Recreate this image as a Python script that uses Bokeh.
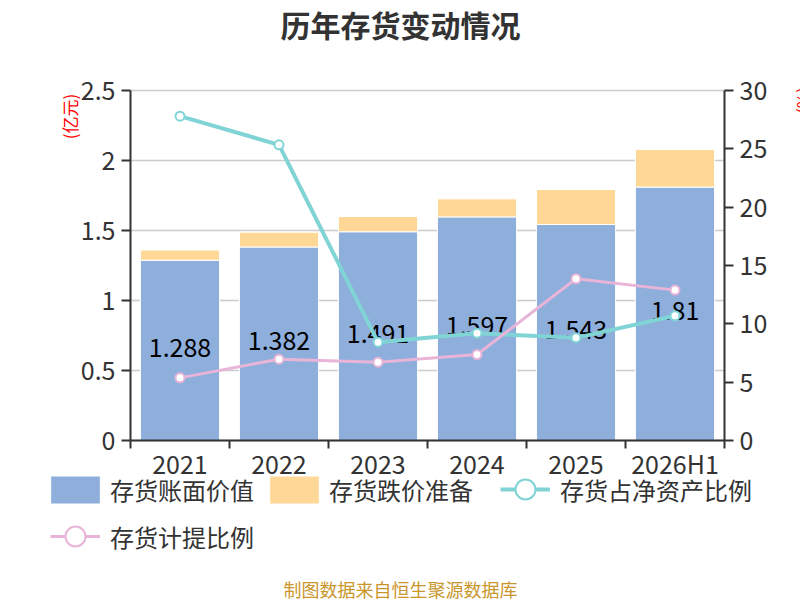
import numpy as np
from bokeh.plotting import figure
from bokeh.models import (Range1d, LinearAxis, FixedTicker, ColumnDataSource, Label,
                          Legend, LegendItem, NumeralTickFormatter)
from bokeh.core.properties import value
from bokeh.embed import file_html
from bokeh.resources import INLINE

# ---------------- data ----------------
categories = ["2021", "2022", "2023", "2024", "2025", "2026H1"]
book_value = [1.288, 1.382, 1.491, 1.597, 1.543, 1.81]        # 存货账面价值 (亿元)
impairment = [0.073, 0.106, 0.109, 0.129, 0.25, 0.269]        # 存货跌价准备 (亿元)
ratio_net_assets = [27.8, 25.34, 8.43, 9.2, 8.8, 10.69]       # 存货占净资产比例 (%)
provision_ratio = [5.37, 6.97, 6.71, 7.37, 13.86, 12.89]      # 存货计提比例 (%)
left_ticks = [0, 0.5, 1, 1.5, 2, 2.5]
right_ticks = [0, 5, 10, 15, 20, 25, 30]
series_names = ["存货账面价值", "存货跌价准备", "存货占净资产比例", "存货计提比例"]
title_text = "历年存货变动情况"
left_unit = "(亿元)"
right_unit = "(%)"
footer_text = "制图数据来自恒生聚源数据库"

# ---------------- layout / style ----------------
W, H = 800, 600
PL, PR, PT, PB = 130, 724, 90, 440     # plot area in pixels
FONT = "Noto Sans CJK SC"
BLUE = "#8eaedb"
ORANGE = "#ffd898"
CYAN = "#80d4d6"
PINK = "#e8b5d8"
AXIS = "#333333"

n = len(categories)
x = np.arange(n)
x_lo, x_hi = x[0] - 0.5, x[-1] + 0.5
xpx = (PR - PL) / (x_hi - x_lo)
ypx = (PB - PT) / (left_ticks[-1] - left_ticks[0])
rpx = (PB - PT) / (right_ticks[-1] - right_ticks[0])

src = ColumnDataSource(dict(
    x=x,
    book=book_value,
    imp=impairment,
    r1=ratio_net_assets,
    r2=provision_ratio,
    ly=np.array(book_value) / 2,
    lt=[f"{v:g}" for v in book_value],
))

p = figure(width=W, height=H,
           x_range=Range1d(x_lo - PL / xpx, x_hi + (W - PR) / xpx),
           y_range=Range1d(left_ticks[0] - (H - PB) / ypx, left_ticks[-1] + PT / ypx),
           output_backend="svg", toolbar_location=None,
           min_border_left=0, min_border_right=0, min_border_top=0, min_border_bottom=0)
p.extra_y_ranges = {"pct": Range1d(right_ticks[0] - (H - PB) / rpx,
                                   right_ticks[-1] + PT / rpx)}
p.outline_line_color = None
p.background_fill_color = "white"
p.border_fill_color = "white"
p.xgrid.visible = False
p.ygrid.visible = False

# horizontal grid lines limited to the plot area
p.segment(x0=x_lo, x1=x_hi, y0=left_ticks, y1=left_ticks,
          line_color="#cccccc", line_width=1.5)

def style_axis(ax):
    ax.axis_line_color = AXIS
    ax.axis_line_width = 2
    ax.major_tick_line_color = AXIS
    ax.major_tick_line_width = 2
    ax.major_tick_out = 9
    ax.major_tick_in = 0
    ax.minor_tick_line_color = None
    ax.major_label_text_font = FONT
    ax.major_label_text_font_size = "25px"
    ax.major_label_text_color = AXIS
    ax.major_label_standoff = 6

# left axis
lax = p.yaxis[0]
style_axis(lax)
lax.fixed_location = x_lo
lax.bounds = (left_ticks[0], left_ticks[-1])
lax.ticker = FixedTicker(ticks=left_ticks)
lax.formatter = NumeralTickFormatter(format="0.[0]")

# right axis
rax = LinearAxis(y_range_name="pct", ticker=FixedTicker(ticks=right_ticks),
                 fixed_location=x_hi, bounds=(right_ticks[0], right_ticks[-1]))
style_axis(rax)
rax.formatter = NumeralTickFormatter(format="0")
p.add_layout(rax, "right")

# x axis: labels at centers, ticks at category boundaries
xax = p.xaxis[0]
style_axis(xax)
xax.fixed_location = left_ticks[0]
xax.bounds = (x_lo, x_hi)
bounds = list(np.concatenate([x - 0.5, [x[-1] + 0.5]]))
xax.ticker = FixedTicker(ticks=[int(i) for i in x], minor_ticks=bounds)
xax.major_label_overrides = {int(i): c for i, c in zip(x, categories)}
xax.major_tick_line_color = None
xax.major_tick_out = 0
xax.minor_tick_line_color = AXIS
xax.minor_tick_line_width = 2
xax.minor_tick_out = 8
xax.minor_tick_in = 0
xax.major_label_standoff = -4

# stacked bars
bars = p.vbar_stack(["book", "imp"], x="x", width=0.8, color=[BLUE, ORANGE],
                    line_color="white", line_width=1, source=src)

# value labels inside blue bars
p.text(x="x", y="ly", text="lt", source=src, text_align="center",
       text_baseline="middle", text_font=value(FONT), text_font_size="25px",
       text_color="#000000", y_offset=-3)

# lines
l1 = p.line("x", "r1", source=src, y_range_name="pct", line_color=CYAN, line_width=4)
s1 = p.scatter("x", "r1", source=src, y_range_name="pct", size=9, marker="circle",
               fill_color="white", line_color=CYAN, line_width=2)
l2 = p.line("x", "r2", source=src, y_range_name="pct", line_color=PINK, line_width=3)
s2 = p.scatter("x", "r2", source=src, y_range_name="pct", size=9, marker="circle",
               fill_color="white", line_color=PINK, line_width=2)

def make_legend(items, loc, glyph_w, glyph_h, standoff, spacing):
    lg = Legend(items=items, location=loc, orientation="horizontal")
    lg.label_text_font = FONT
    lg.label_text_font_size = "24px"
    lg.label_text_color = AXIS
    lg.glyph_width = glyph_w
    lg.glyph_height = glyph_h
    lg.label_height = 28
    lg.label_standoff = standoff
    lg.spacing = spacing
    lg.padding = 0
    lg.margin = 0
    lg.border_line_color = None
    lg.background_fill_alpha = 0
    p.add_layout(lg, "center")

# legends (location = bottom-left corner, screen px from the canvas bottom-left)
make_legend([LegendItem(label=series_names[0], renderers=[bars[0]]),
             LegendItem(label=series_names[1], renderers=[bars[1]])],
            (44, 93), 62, 35, 4, 9)
make_legend([LegendItem(label=series_names[2], renderers=[l1, s1])], (500, 86), 50, 50, 10, 14)
make_legend([LegendItem(label=series_names[3], renderers=[l2, s2])], (50, 39), 50, 50, 10, 14)

# title, axis names, footer
def add_label(txt, sx, sy, size, color, angle=0.0, style="normal"):
    p.add_layout(Label(x=sx, y=H - sy, x_units="screen", y_units="screen", text=txt,
                       angle=angle, text_align="center", text_baseline="middle",
                       text_font=FONT, text_font_size=size, text_font_style=style,
                       text_color=color))

add_label(title_text, 400, 23, "30px", "#333333", style="bold")
add_label(left_unit, 69, 116, "17px", "#ff0000", angle=np.pi / 2)
add_label(right_unit, 802, 100, "17px", "#ff0000", angle=np.pi / 2)
add_label(footer_text, 400, 588, "18px", "#c9962c")

open("out.html", "w").write(file_html(p, INLINE))
